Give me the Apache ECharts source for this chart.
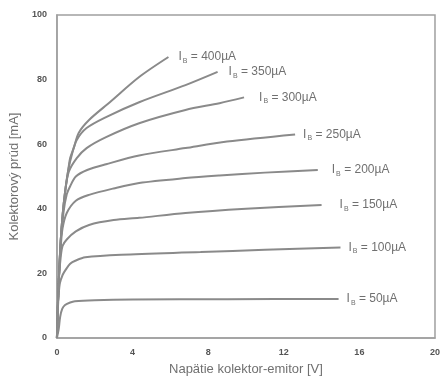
<!DOCTYPE html>
<html>
<head>
<meta charset="utf-8">
<script src="https://cdn.jsdelivr.net/npm/echarts@6/dist/echarts.min.js"></script>
<style>html,body{margin:0;padding:0;background:#fff}#c{width:443px;height:381px}</style>
</head>
<body>
<div id="c"></div>
<script>
// Base currents (µA)
const baseCurrents = [50, 100, 150, 200, 250, 300, 350, 400];
// Curves: [V_CE (V), I_C (mA)]
const ib50  = [[0,0],[0.1,3],[0.17,6.5],[0.28,9],[0.43,10.2],[0.7,11],[0.95,11.4],[2,11.7],[4,11.9],[9,12],[14.9,12.1]];
const ib100 = [[0,0],[0.05,9],[0.1,14],[0.16,17],[0.3,19.5],[0.45,21],[0.7,23],[1,24],[1.5,25],[3.4,25.8],[7.6,26.6],[11,27.3],[15,28]];
const ib150 = [[0,0],[0.05,10],[0.1,18],[0.2,25],[0.3,28.5],[0.52,30.5],[1,33],[1.7,35],[3,36.5],[4.35,37.2],[6.8,38.7],[10,40],[14,41.2]];
const ib200 = [[0,0],[0.05,10],[0.1,18],[0.2,28],[0.3,34],[0.52,38.7],[1,42.5],[1.7,44.3],[3,46.3],[4.35,48],[6.8,49.5],[8.6,50.3],[11,51.2],[13.8,52]];
const ib250 = [[0,0],[0.05,10],[0.1,18],[0.2,30],[0.35,39],[0.52,44.5],[0.7,47],[1,50],[1.6,52],[2.6,53.8],[4.35,56.5],[6.8,58.8],[9,60.8],[12.6,63]];
const ib300 = [[0,0],[0.05,10],[0.1,18],[0.2,30],[0.3,38],[0.45,46],[0.63,51.5],[1.05,55.7],[1.57,58.8],[2.6,62.2],[4.35,66.5],[6.8,70.6],[8.6,72.7],[9.9,74.5]];
const ib350 = [[0,0],[0.05,10],[0.1,18],[0.2,30],[0.3,38],[0.45,46],[0.6,52],[0.8,57],[1.05,61.3],[1.57,65],[2.6,68.4],[4.35,73],[6.8,78.3],[8.5,82.4]];
const ib400 = [[0,0],[0.05,10],[0.1,18],[0.2,30],[0.3,38],[0.45,46],[0.6,52],[0.7,55.7],[0.9,59],[1.15,63.5],[1.7,67.5],[2.8,73],[4.35,80.8],[5.9,87]];
const curves = [ib50, ib100, ib150, ib200, ib250, ib300, ib350, ib400];
const labelGaps = [8, 8, 18, 14, 8, 15, 11, 10];
// Axis ticks
const xTicks = [0, 4, 8, 12, 16, 20];
const yTicks = [0, 20, 40, 60, 80, 100];

const lineColor = '#8a8a8a';
const series = curves.map((d, i) => ({
  type: 'line',
  data: d,
  smooth: 0.3,
  showSymbol: false,
  symbol: 'none',
  lineStyle: { color: lineColor, width: 2 },
  endLabel: {
    show: true,
    distance: labelGaps[i],
    formatter: () => '{i|I}{b|B}{t| = ' + baseCurrents[i] + 'µA}',
    rich: {
      i: { fontSize: 12, color: '#707070', fontFamily: 'Liberation Sans' },
      b: { fontSize: 7, color: '#707070', fontFamily: 'Liberation Sans', padding: [8, 0, 0, 1] },
      t: { fontSize: 12, color: '#707070', fontFamily: 'Liberation Sans' }
    }
  }
}));

const chart = echarts.init(document.getElementById('c'), null, { renderer: 'canvas' });
chart.setOption({
  animation: false,
  grid: { left: 55, right: 6, top: 15, bottom: 43, show: true, borderColor: '#a0a0a0', borderWidth: 1.5, containLabel: false },
  xAxis: {
    type: 'value', min: xTicks[0], max: xTicks[xTicks.length - 1], interval: 4,
    name: 'Napätie kolektor-emitor [V]', nameLocation: 'middle', nameGap: 25,
    nameTextStyle: { fontSize: 13, color: '#707070', fontFamily: 'Liberation Sans' },
    axisLine: { show: true, lineStyle: { color: '#a0a0a0', width: 1.5 } },
    axisTick: { show: false },
    splitLine: { show: false },
    axisLabel: { margin: 10, fontSize: 9, fontWeight: 'bold', color: '#555555', fontFamily: 'Liberation Sans Narrow, Liberation Sans' }
  },
  yAxis: {
    type: 'value', min: yTicks[0], max: yTicks[yTicks.length - 1], interval: 20,
    name: 'Kolektorový prúd [mA]', nameLocation: 'middle', nameGap: 27,
    nameTextStyle: { fontSize: 13, color: '#707070', fontFamily: 'Liberation Sans' },
    axisLine: { show: true, lineStyle: { color: '#a0a0a0', width: 1.5 } },
    axisTick: { show: false },
    splitLine: { show: false },
    axisLabel: { margin: 10, fontSize: 9, fontWeight: 'bold', color: '#555555', fontFamily: 'Liberation Sans Narrow, Liberation Sans' }
  },
  series: series
});
</script>
</body>
</html>
